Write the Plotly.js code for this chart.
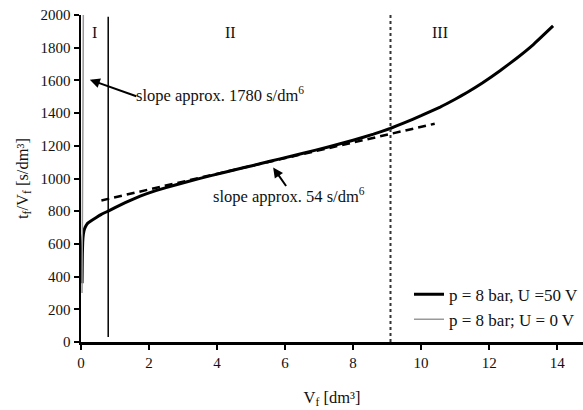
<!DOCTYPE html>
<html>
<head>
<meta charset="utf-8">
<script src="https://cdn.plot.ly/plotly-3.0.1.min.js"></script>
<style>html,body{margin:0;padding:0;background:#fff;}#chart{width:583px;height:410px;}</style>
</head>
<body>
<div id="chart"></div>
<script>
// U = 50 V series
const vf50 = [0.03, 0.035, 0.04, 0.05, 0.07, 0.1, 0.15, 0.2, 0.3, 0.45, 0.6, 0.8, 1.0, 1.3, 1.74, 2.2, 2.8, 3.5, 4.2, 4.8, 5.26, 5.85, 6.5, 7.24, 8.0, 8.6, 9.09, 9.5, 10.0, 10.56, 11.0, 11.35, 11.8, 12.32, 12.8, 13.3, 13.88];
const tv50 = [360, 450, 540, 610, 660, 690, 712, 727, 742, 762, 781, 801, 822, 852, 892, 926, 962, 1001, 1037, 1067, 1090, 1120, 1153, 1191, 1234, 1271, 1306, 1340, 1384, 1437, 1485, 1526, 1584, 1659, 1734, 1819, 1933];
// U = 0 V series
const vf0 = [0.03, 0.05, 0.06, 0.07];
const tv0 = [300, 800, 1500, 2100];
// linear fit (region II)
const fitX = [0.6, 10.4];
const fitY = [866, 1335];
// region boundaries
const bound1X = [0.8, 0.8];
const bound1Y = [30, 1990];
const bound2X = [9.1, 9.1];
const bound2Y = [0, 2000];
// tick labels
const xTicks = [0, 2, 4, 6, 8, 10, 12, 14];
const yTicks = [0, 200, 400, 600, 800, 1000, 1200, 1400, 1600, 1800, 2000];
const regionLabels = ["I", "II", "III"];
const regionLabelX = [0.4, 4.4, 10.55];
const seriesNames = ["p = 8 bar, U =50 V", "p = 8 bar; U = 0 V"];

const font = "Liberation Serif, Times New Roman, serif";

const traces = [
  {x: vf50, y: tv50, mode: "lines", name: seriesNames[0], line: {color: "#000", width: 3, shape: "spline", smoothing: 0.3}},
  {x: vf0, y: tv0, mode: "lines", name: seriesNames[1], line: {color: "#999", width: 1.5}},
  {x: fitX, y: fitY, mode: "lines", showlegend: false, line: {color: "#000", width: 2.5, dash: "8px,5px"}},
  {x: bound1X, y: bound1Y, mode: "lines", showlegend: false, line: {color: "#000", width: 1.5}},
  {x: bound2X, y: bound2Y, mode: "lines", showlegend: false, line: {color: "#333", width: 2, dash: "dot"}}
];

const annotations = regionLabels.map((t, i) => ({
  x: regionLabelX[i], y: 1890, xref: "x", yref: "y", text: t, showarrow: false,
  font: {family: font, size: 16, color: "#111"}
}));
annotations.push({
  x: 0.26, y: 1604, xref: "x", yref: "y", ax: 48, ay: 17,
  text: "", showarrow: true, arrowhead: 2, arrowsize: 1, arrowwidth: 2, arrowcolor: "#000"
});
annotations.push({
  x: 4.08, y: 1512, xref: "x", yref: "y", text: "slope approx. 1780 s/dm<sup>6</sup>", showarrow: false,
  font: {family: font, size: 16.5, color: "#111"}
});
annotations.push({
  x: 6.12, y: 898, xref: "x", yref: "y", text: "slope approx. 54 s/dm<sup>6</sup>", showarrow: false,
  font: {family: font, size: 16.5, color: "#111"}
});
annotations.push({
  x: 5.65, y: 1067, xref: "x", yref: "y", ax: 14, ay: 20,
  text: "", showarrow: true, arrowhead: 2, arrowsize: 1, arrowwidth: 2, arrowcolor: "#000"
});

const layout = {
  width: 583, height: 410,
  margin: {l: 81, r: 0, t: 15, b: 68},
  paper_bgcolor: "#fff", plot_bgcolor: "#fff",
  font: {family: font, size: 15, color: "#111"},
  showlegend: true,
  legend: {x: 1.0, xanchor: "right", y: 0.2, yanchor: "top", bgcolor: "rgba(0,0,0,0)", font: {family: font, size: 17, color: "#111"}, tracegroupgap: 0},
  xaxis: {
    range: [0, 14.76], tickvals: xTicks, ticktext: xTicks.map(String),
    showgrid: false, zeroline: false, showline: true, linecolor: "#000", linewidth: 2.5,
    ticks: "outside", ticklen: 5, tickwidth: 2, tickcolor: "#000",
    title: {text: "V<sub>f</sub> [dm³]", font: {family: font, size: 16.5}, standoff: 22}
  },
  yaxis: {
    range: [0, 2000], tickvals: yTicks, ticktext: yTicks.map(String),
    showgrid: false, zeroline: false, showline: true, linecolor: "#000", linewidth: 2.5,
    ticks: "outside", ticklen: 5, tickwidth: 2, tickcolor: "#000",
    title: {text: "t<sub>f</sub>/V<sub>f</sub> [s/dm³]", font: {family: font, size: 16.5}, standoff: 8}
  },
  annotations: annotations
};

Plotly.newPlot("chart", traces, layout, {displayModeBar: false, staticPlot: true});
</script>
</body>
</html>
